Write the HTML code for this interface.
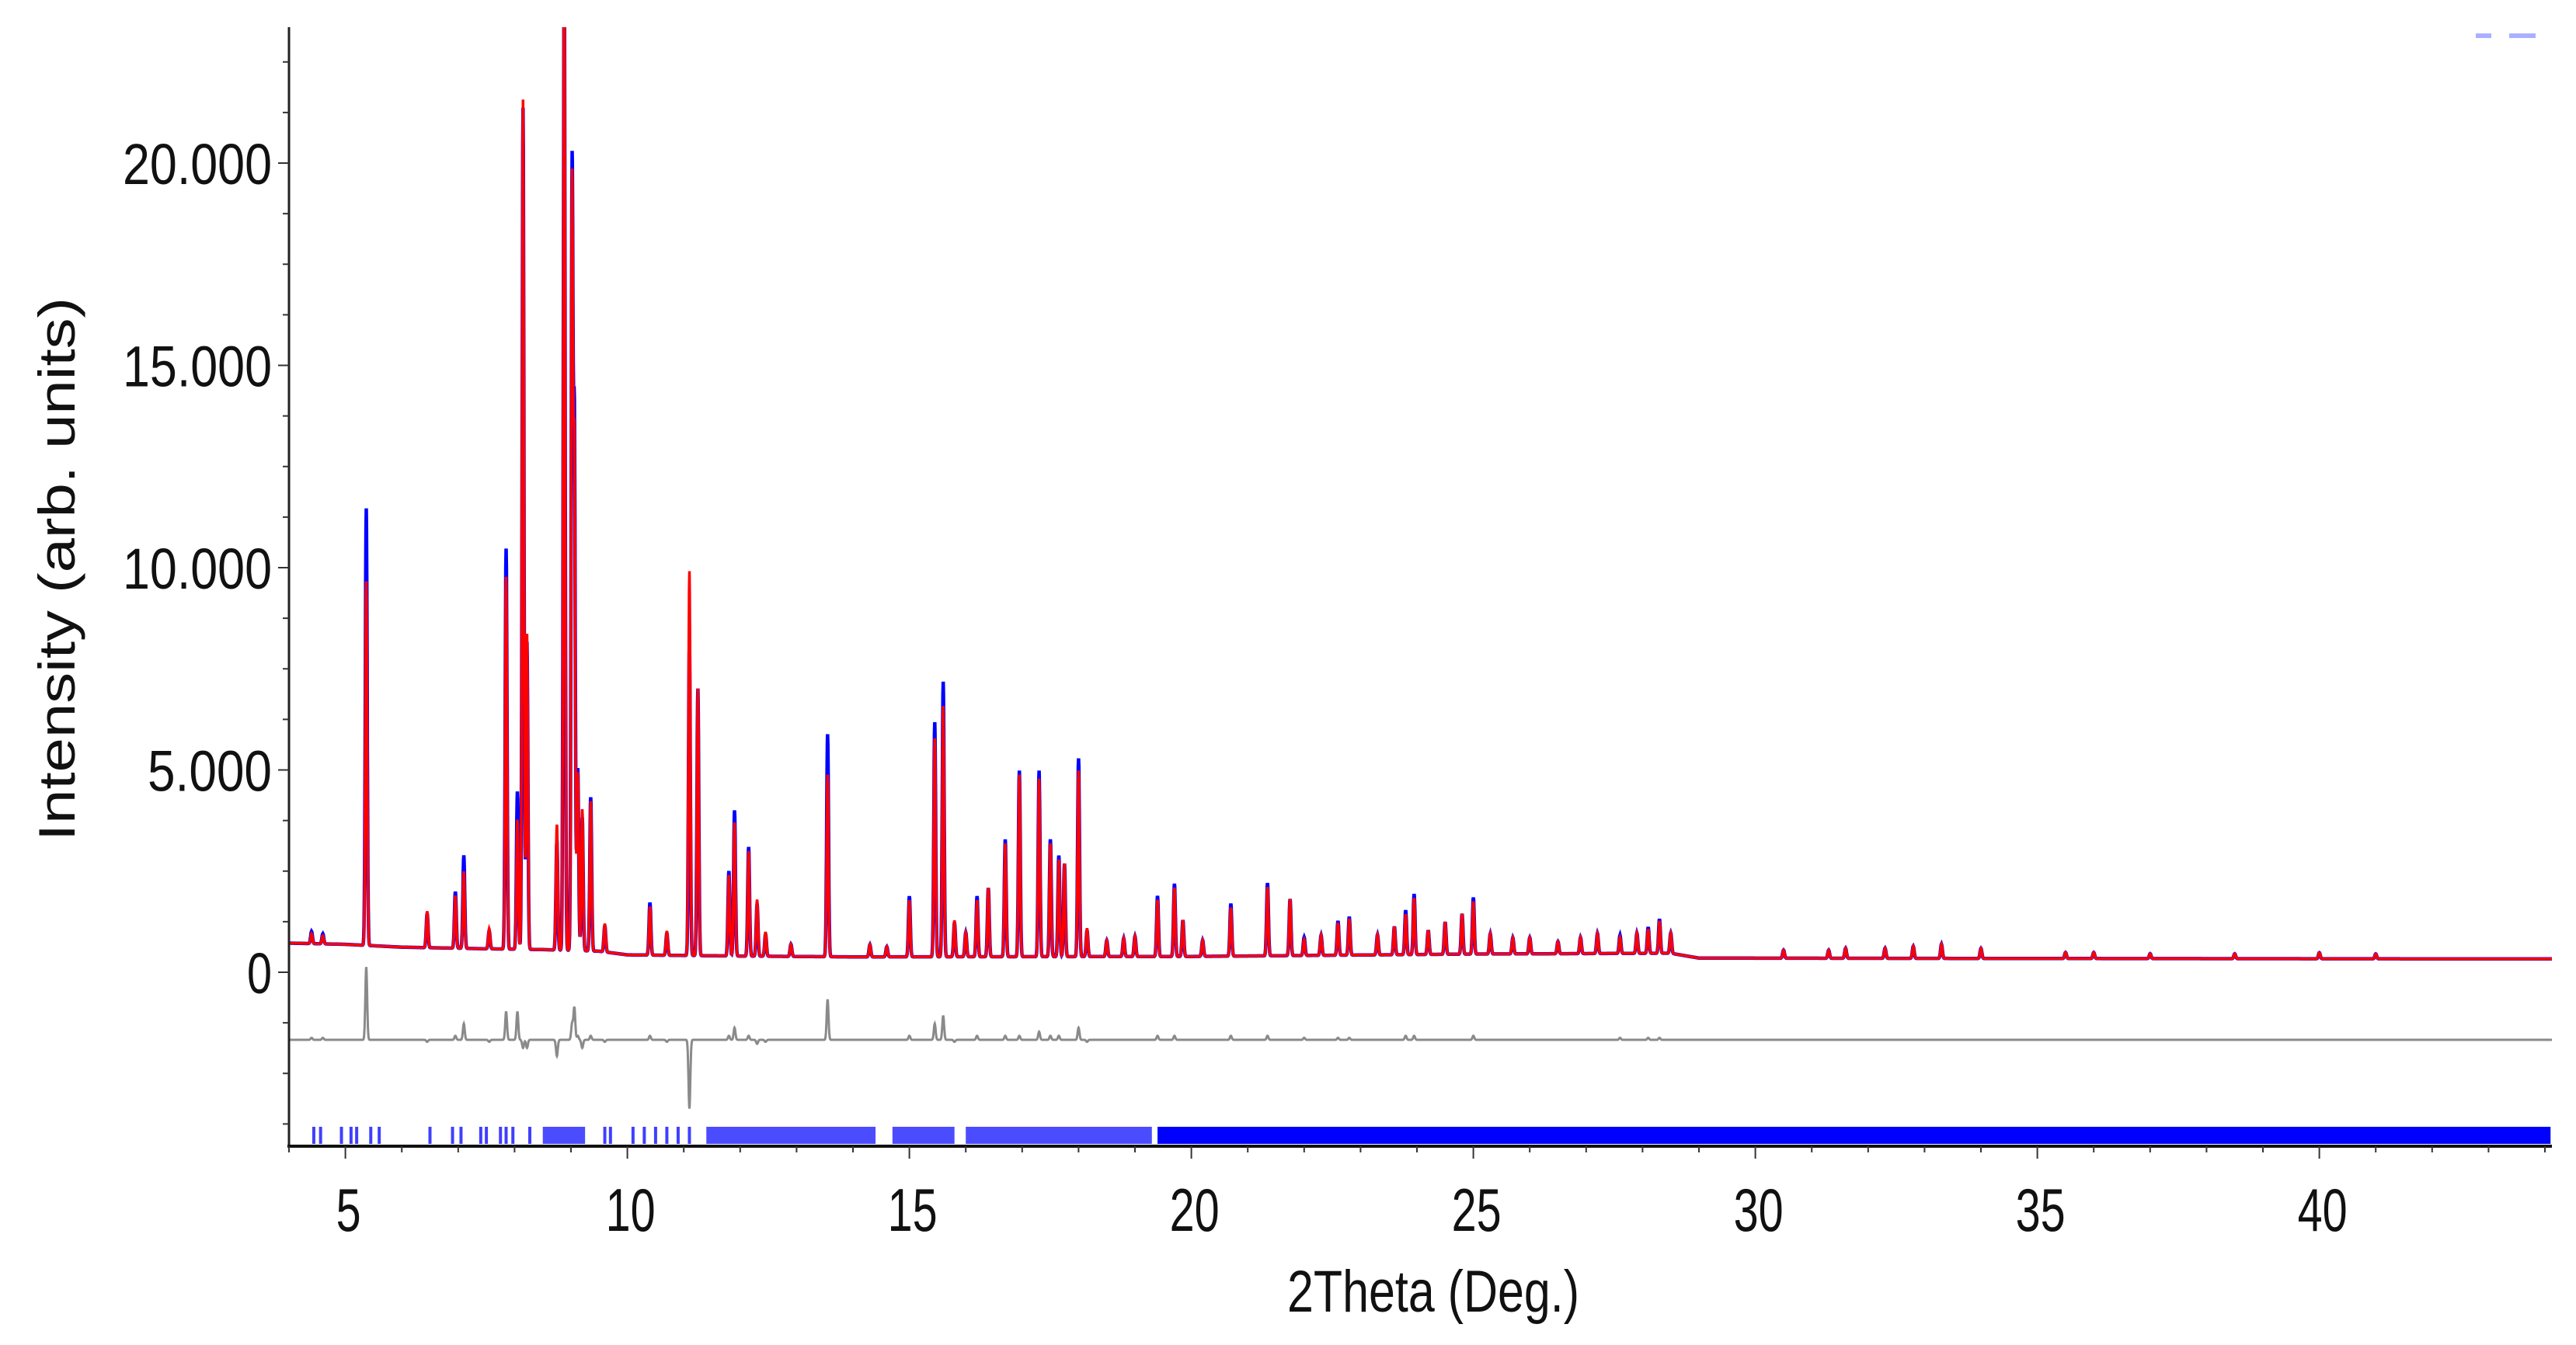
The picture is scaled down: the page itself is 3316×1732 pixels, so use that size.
<!DOCTYPE html>
<html><head><meta charset="utf-8"><style>
html,body{margin:0;padding:0;background:#fff;width:3316px;height:1732px;overflow:hidden}
svg{display:block}
text{font-family:"Liberation Sans",sans-serif;fill:#111}
</style></head><body>
<svg id="chart" width="3316" height="1732" viewBox="0 0 3316 1732" xmlns="http://www.w3.org/2000/svg">
<defs><clipPath id="plotclip"><rect x="373" y="35" width="2912" height="1440"/></clipPath></defs>
<g id="plot" clip-path="url(#plotclip)"></g>
<g id="axes"></g>
<text x="0" y="0" font-size="66" text-anchor="middle" textLength="700" lengthAdjust="spacingAndGlyphs" transform="translate(96,733) rotate(-90)">Intensity (arb. units)</text>
<text x="1845" y="1689" font-size="76" text-anchor="middle" textLength="376" lengthAdjust="spacingAndGlyphs">2Theta (Deg.)</text>
<rect x="3187" y="43" width="20" height="6" fill="#aab0ff"/>
<rect x="3230" y="43" width="34" height="6" fill="#aab0ff"/>
</svg>
<script>
// ---- data ----
const bgX = [4.0, 5.0, 6.0, 7.5, 8.5, 9.5, 10.0, 12.0, 14.0, 20.0, 25.0, 28.5, 29.0, 35.0, 44.2];
const bgY = [720, 690, 620, 580, 560, 520, 430, 400, 380, 390, 450, 470, 350, 340, 330];
const peakPos  = [4.4, 4.6, 5.37, 6.45, 6.95, 7.1, 7.55, 7.85, 8.05, 8.15, 8.22, 8.75, 8.88, 9.02, 9.06, 9.12, 9.2, 9.35, 9.6, 10.4, 10.7, 11.1, 11.25, 11.8, 11.9, 12.15, 12.3, 12.45, 13.55, 14.3, 15.0, 15.45, 15.6, 15.8, 16.2, 16.4, 16.7, 16.95, 17.3, 17.5, 17.65, 17.75, 18.0, 18.15, 19.4, 19.7, 19.85, 20.7, 21.35, 21.75, 22.6, 23.6, 23.95, 24.5, 24.8, 25.0, 26.0, 27.2, 28.3, 30.5, 31.3, 32.8, 33.3, 36.0, 40.0,
  19.0, 20.2, 22.0, 22.3, 22.8, 23.3, 23.8, 24.2, 25.3, 25.7, 26.5, 26.9, 27.6, 27.9, 28.1, 28.5, 31.6, 32.3, 34.0, 35.5, 37.0, 38.5, 41.0, 12.9, 14.6, 16.0, 18.5, 18.8];
const calcHeight = [250, 200, 9000, 900, 1300, 1900, 500, 9200, 3200, 21000, 7800, 3100, 24500, 18800, 12000, 4400, 3500, 3700, 700, 1200, 600, 9500, 6600, 2000, 3300, 2600, 1400, 600, 4500, 300, 1400, 5400, 6200, 900, 1400, 1700, 2800, 4500, 4400, 2800, 2400, 2300, 4600, 700, 1400, 1700, 900, 1200, 1700, 1400, 800, 700, 1400, 800, 1000, 1300, 400, 500, 800, 200, 200, 300, 350, 150, 150,
  500, 400, 400, 500, 900, 500, 1000, 600, 500, 400, 300, 400, 400, 500, 600, 500, 250, 250, 250, 150, 120, 120, 120, 300, 250, 600, 400, 450];
const obsHeight  = [300, 250, 10800, 850, 1400, 2300, 450, 9900, 3900, 20800, 7600, 2700, 24500, 19200, 12800, 4500, 3300, 3800, 650, 1300, 550, 7800, 6600, 2100, 3600, 2700, 1300, 550, 5500, 300, 1500, 5800, 6800, 850, 1500, 1700, 2900, 4600, 4600, 2900, 2500, 2300, 4900, 650, 1500, 1800, 900, 1300, 1800, 1400, 850, 700, 1500, 800, 1000, 1400, 400, 500, 850, 200, 200, 300, 350, 150, 150,
  500, 400, 450, 500, 950, 500, 1100, 600, 500, 400, 300, 400, 450, 500, 650, 500, 250, 250, 250, 150, 120, 120, 120, 300, 250, 600, 400, 450];
const reflPos = [4.44, 4.56, 4.93, 5.1, 5.2, 5.45, 5.6, 6.5, 6.9, 7.05, 7.4, 7.5, 7.75, 7.85, 7.97, 8.27, 9.6, 9.7, 10.1, 10.3, 10.5, 10.7, 10.9, 11.1];
const reflBandStart = [8.5, 11.4, 14.7, 16.0, 19.4];
const reflBandEnd   = [9.25, 14.4, 15.8, 19.3, 44.1];
const yTickVals = [0, 5000, 10000, 15000, 20000];
const yTickLabels = ["0", "5.000", "10.000", "15.000", "20.000"];
const xTickVals = [5, 10, 15, 20, 25, 30, 35, 40];
const diffOffset = -1670;

// ---- scales ----
const X0 = 372, PXDEG = 72.6, Y0 = 1252, PXU = 0.0521;
function xs(d){ return X0 + (d - 4) * PXDEG; }
function ys(v){ return Y0 - v * PXU; }
const NS = "http://www.w3.org/2000/svg";
function mk(tag, attrs, parent){ const e = document.createElementNS(NS, tag); for (const k in attrs) e.setAttribute(k, attrs[k]); parent.appendChild(e); return e; }
function bg(x){ for (let i=0;i<bgX.length-1;i++){ if (x<=bgX[i+1]) { const t=(x-bgX[i])/(bgX[i+1]-bgX[i]); return bgY[i]+t*(bgY[i+1]-bgY[i]); } } return bgY[bgY.length-1]; }
function prof(x, heights){ let s = bg(x); const sg = 0.016; for (let i=0;i<peakPos.length;i++){ const d=(x-peakPos[i]); if (Math.abs(d)<0.14) s += heights[i]*Math.exp(-0.5*(d/sg)*(d/sg)); } return s; }

const plot = document.getElementById('plot');
const axes = document.getElementById('axes');
let po="", pc="", pd="";
for (let x=4.0; x<=44.2; x+=0.005){
  const o = prof(x, obsHeight), c = prof(x, calcHeight);
  const X = xs(x).toFixed(1);
  po += (po?"L":"M") + X + "," + ys(o).toFixed(1);
  pc += (pc?"L":"M") + X + "," + ys(c).toFixed(1);
  pd += (pd?"L":"M") + X + "," + ys(diffOffset + o - c).toFixed(1);
}
const dl = mk('path', {d: pd, fill: 'none', stroke: '#8a8a8a', 'stroke-width': 3}, plot);


const ol = mk('path', {d: po, fill: 'none', stroke: '#0000ff', 'stroke-width': 4.5}, plot);


const cl = mk('path', {d: pc, fill: 'none', stroke: '#ff0000', 'stroke-width': 3.5}, plot);



// reflection ticks
const rg = mk('g', {}, plot);


reflPos.forEach(p => {
  const l = mk('line', {x1: xs(p), x2: xs(p), y1: 1451, y2: 1473, stroke: '#0000ff', 'stroke-width': 4, opacity: 0.75}, rg);
  
  
});
reflBandStart.forEach((s, i) => {
  const r = mk('rect', {x: xs(s), y: 1451, width: xs(reflBandEnd[i]) - xs(s), height: 22, fill: '#0000ff', opacity: i < 4 ? 0.7 : 1}, rg);
  
  
});

// axes
const ya = mk('line', {x1: 372, x2: 372, y1: 35, y2: 1476, stroke: '#222', 'stroke-width': 3}, axes);


const xa = mk('line', {x1: 370, x2: 3285, y1: 1476, y2: 1476, stroke: '#111', 'stroke-width': 4}, axes);


for (let v = -3750; v <= 22500; v += 1250){
  const major = (v % 5000 === 0);
  const t = mk('line', {x1: 372 - (major ? 14 : 8), x2: 372, y1: ys(v), y2: ys(v), stroke: '#333', 'stroke-width': 2}, axes);
  
  
}
yTickVals.forEach((v, i) => {
  const lab = yTickLabels[i];
  const t = mk('text', {x: 350, y: ys(v) + 27, 'font-size': 74, 'text-anchor': 'end', textLength: Math.round(lab.length * 32), lengthAdjust: 'spacingAndGlyphs'}, axes);
  t.textContent = lab;
  
  
});
for (let d = 4; d <= 44; d++){
  const major = (d % 5 === 0);
  const t = mk('line', {x1: xs(d), x2: xs(d), y1: 1476, y2: 1476 + (major ? 16 : 8), stroke: '#333', 'stroke-width': 2}, axes);
  
  
}
xTickVals.forEach(v => {
  const lab = String(v);
  const t = mk('text', {x: xs(v) + 4, y: 1585, 'font-size': 78, 'text-anchor': 'middle', textLength: lab.length * 32, lengthAdjust: 'spacingAndGlyphs'}, axes);
  t.textContent = lab;
  
  
});
</script>
</body></html>
